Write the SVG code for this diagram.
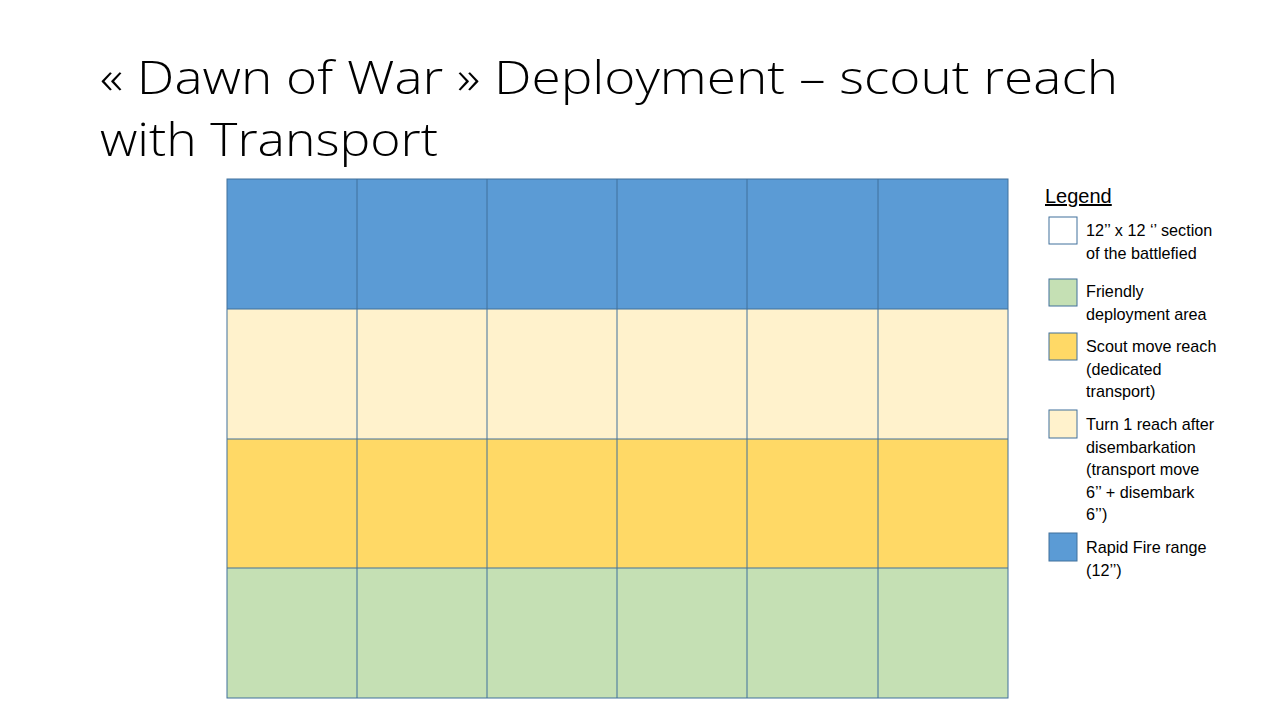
<svg xmlns="http://www.w3.org/2000/svg" width="1280" height="720" viewBox="0 0 1280 720">
<style>
.t{font-family:"Liberation Sans",Arial,sans-serif;fill:#000}
.title{font-family:"Open Sans","Liberation Sans",sans-serif;font-weight:300;font-size:46px}
.lg{font-size:16.2px}
.c{stroke:#41719C;stroke-width:1}
.blue{fill:#5B9BD5}
.pale{fill:#FFF2CC}
.gold{fill:#FFD966}
.green{fill:#C5E0B4}
.white{fill:#FFFFFF}
</style>
<rect width="1280" height="720" fill="#fff"/>
<g id="title">
<text class="t title" x="100" y="94" textLength="1018" lengthAdjust="spacingAndGlyphs">« Dawn of War » Deployment – scout reach</text>
<text class="t title" x="100" y="156" textLength="338" lengthAdjust="spacingAndGlyphs">with Transport</text>
</g>
<g id="grid">
<rect class="blue" x="227" y="179" width="781" height="130"/>
<rect class="pale" x="227" y="309" width="781" height="130"/>
<rect class="gold" x="227" y="439" width="781" height="129"/>
<rect class="green" x="227" y="568" width="781" height="130"/>
<g class="c" fill="none">
<rect x="227" y="179" width="781" height="519"/>
<line x1="357" y1="179" x2="357" y2="698"/>
<line x1="487" y1="179" x2="487" y2="698"/>
<line x1="617" y1="179" x2="617" y2="698"/>
<line x1="747" y1="179" x2="747" y2="698"/>
<line x1="878" y1="179" x2="878" y2="698"/>
<line x1="227" y1="309" x2="1008" y2="309"/>
<line x1="227" y1="439" x2="1008" y2="439"/>
<line x1="227" y1="568" x2="1008" y2="568"/>
</g>
</g>
<g id="legend">
<text class="t" x="1045" y="203" font-size="20" text-decoration="underline">Legend</text>
<g id="legend-section">
<rect class="white c" x="1049" y="217" width="28" height="27"/>
<text class="t lg" x="1086" y="236">12’’ x 12 ‘’ section</text>
<text class="t lg" x="1086" y="259">of the battlefied</text>
</g>
<g id="legend-friendly">
<rect class="green c" x="1049" y="279" width="28" height="27"/>
<text class="t lg" x="1086" y="297">Friendly</text>
<text class="t lg" x="1086" y="320">deployment area</text>
</g>
<g id="legend-scout">
<rect class="gold c" x="1049" y="333" width="28" height="27"/>
<text class="t lg" x="1086" y="352">Scout move reach</text>
<text class="t lg" x="1086" y="375">(dedicated</text>
<text class="t lg" x="1086" y="397">transport)</text>
</g>
<g id="legend-turn1">
<rect class="pale c" x="1049" y="410" width="28" height="28"/>
<text class="t lg" x="1086" y="430">Turn 1 reach after</text>
<text class="t lg" x="1086" y="453">disembarkation</text>
<text class="t lg" x="1086" y="475">(transport move</text>
<text class="t lg" x="1086" y="498">6’’ + disembark</text>
<text class="t lg" x="1086" y="520">6’’)</text>
</g>
<g id="legend-rapid">
<rect class="blue c" x="1049" y="533" width="28" height="28"/>
<text class="t lg" x="1086" y="553">Rapid Fire range</text>
<text class="t lg" x="1086" y="576">(12’’)</text>
</g>
</g>
</svg>
